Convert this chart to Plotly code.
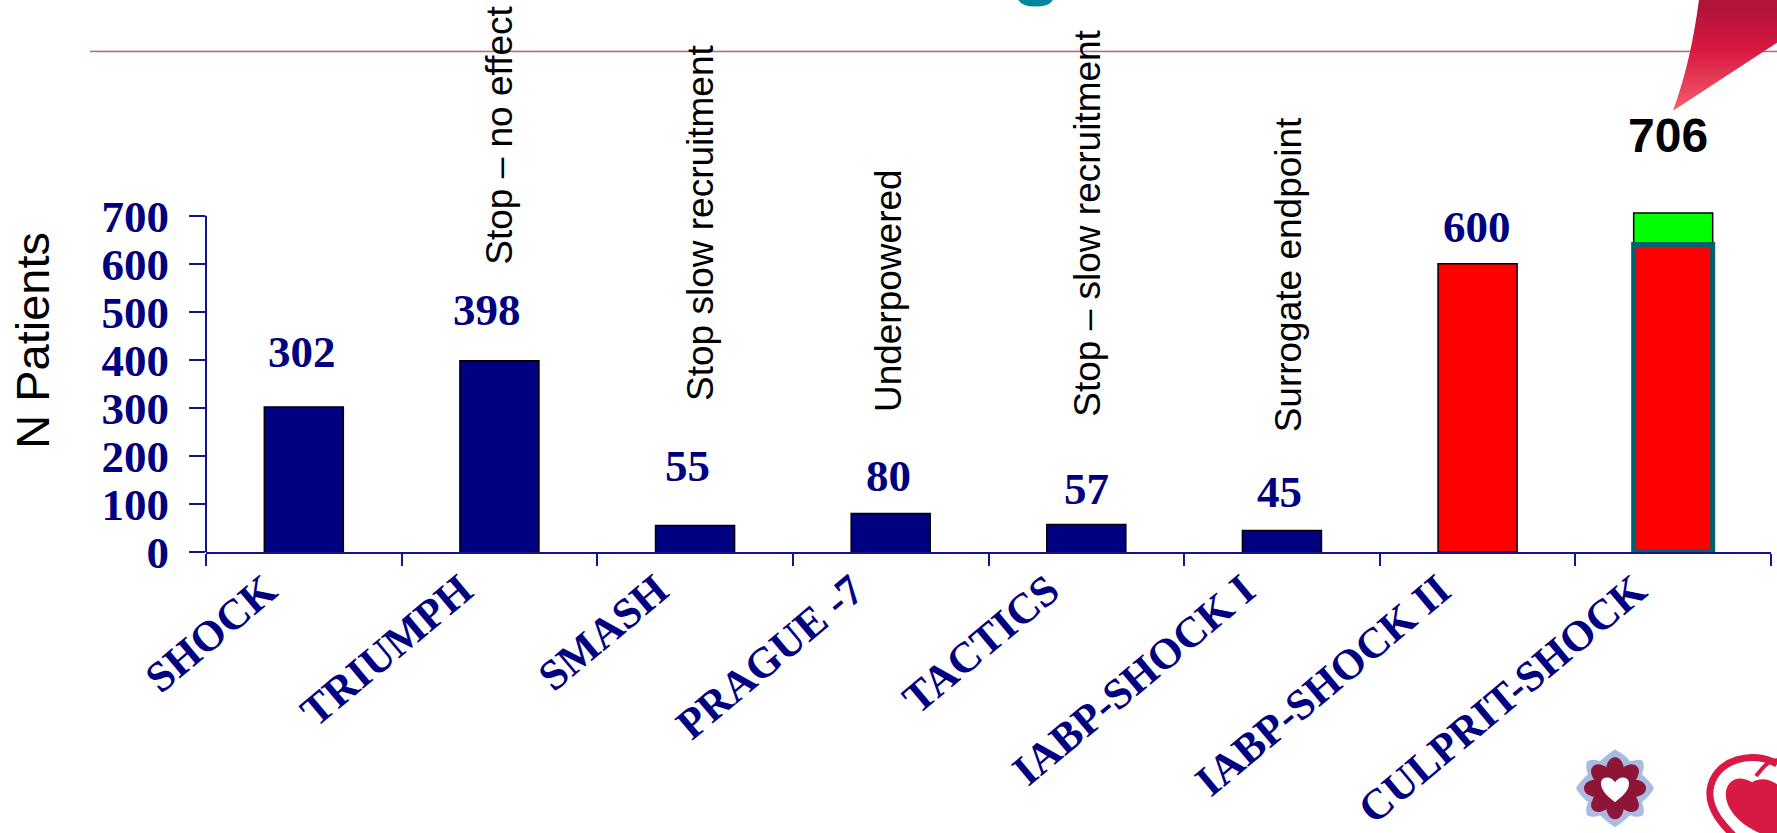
import base64
import plotly.graph_objects as go

# Trial enrolment figures
trials = ["SHOCK", "TRIUMPH", "SMASH", "PRAGUE -7", "TACTICS", "IABP-SHOCK I", "IABP-SHOCK II", "CULPRIT-SHOCK"]
patients = [302, 398, 55, 80, 57, 45, 600, 640]
extra_patients = [None, None, None, None, None, None, None, 66]
value_labels = ["302", "398", "55", "80", "57", "45", "600", "706"]
notes = [None, "Stop – no effect", "Stop slow recruitment", "Underpowered",
         "Stop – slow recruitment", "Surrogate endpoint", None, None]
y_ticks = [0, 100, 200, 300, 400, 500, 600, 700]

W, H = 1777, 833
L, R, B = 206, 1771, 552
PX_PER_PATIENT = 0.48
Y_TOP = 712
T = B - Y_TOP * PX_PER_PATIENT
NAVY = "#000080"
AXIS = "#14148c"
SERIF = "Liberation Serif"
SANS = "Liberation Sans"

bar_fill = [NAVY] * 6 + ["#ff0000"] * 2
bar_edge = ["#000000"] * 7 + ["#00606e"]
bar_edge_w = [1.5] * 7 + [5]


def paper_x(px):
    return (px - L) / (R - L)


def paper_y(py):
    return (B - py) / (B - T)


# Slide furniture: rule, ribbon corner, logos
backdrop = f"""<svg xmlns="http://www.w3.org/2000/svg" width="{W}" height="{H}" viewBox="0 0 {W} {H}">
<defs><linearGradient id="g" x1="0" y1="0" x2="0" y2="1">
<stop offset="0.1" stop-color="#b3143a"/><stop offset="0.45" stop-color="#d81842"/><stop offset="1" stop-color="#f55e6a"/>
</linearGradient></defs>
<rect x="90" y="51" width="1687" height="1.6" fill="#b26c86"/>
<path d="M1699 0 Q1691 62 1673 111 L1777 43 L1777 0 Z" fill="url(#g)"/>
<path d="M1018 0 Q1022 7 1035 7 Q1050 7 1053 0 Z" fill="#00879b"/>
<g transform="translate(1615 788)">
<path d="M0 -39 Q12 -32 15 -27 Q26 -30 28 -27 Q30 -20 27 -14 Q36 -6 39 0 Q36 6 27 14 Q30 22 28 27 Q22 30 15 27 Q8 34 0 39 Q-8 34 -15 27 Q-22 30 -28 27 Q-30 22 -27 14 Q-36 6 -39 0 Q-36 -6 -27 -14 Q-30 -20 -28 -27 Q-22 -30 -15 -27 Q-8 -34 0 -39 Z" fill="#a9bbe0"/>
<g fill="#8e1537">
<ellipse cx="0" cy="-18" rx="9" ry="13"/><ellipse cx="0" cy="18" rx="9" ry="13"/>
<ellipse cx="-18" cy="0" rx="13" ry="9"/><ellipse cx="18" cy="0" rx="13" ry="9"/>
<ellipse cx="0" cy="-18" rx="9" ry="13" transform="rotate(45)"/><ellipse cx="0" cy="18" rx="9" ry="13" transform="rotate(45)"/>
<ellipse cx="-18" cy="0" rx="13" ry="9" transform="rotate(45)"/><ellipse cx="18" cy="0" rx="13" ry="9" transform="rotate(45)"/>
</g>
<path d="M0 14 C-6 9 -14 3 -14 -5 C-14 -12 -4 -13 0 -6 C4 -13 14 -12 14 -5 C14 3 6 9 0 14 Z" fill="#ffffff"/>
</g>
<path d="M1777 764 C1755 750 1714 758 1710 790 C1708 810 1724 826 1738 840" fill="none" stroke="#d61a45" stroke-width="7"/>
<path d="M1777 760 C1768 760 1762 768 1756 776" fill="none" stroke="#d61a45" stroke-width="4"/>
<path d="M1752 782 C1735 772 1724 784 1726 797 C1728 812 1742 825 1760 833 L1777 833 L1777 784 C1768 778 1760 778 1752 782 Z" fill="#d61a45"/>
</svg>"""
backdrop_uri = "data:image/svg+xml;base64," + base64.b64encode(backdrop.encode()).decode()

fig = go.Figure()
fig.add_bar(x=trials, y=extra_patients, base=patients, width=0.404,
            marker=dict(color="#00ff00", line=dict(color="#000000", width=1.5)))
fig.add_bar(x=trials, y=patients, width=0.404,
            marker=dict(color=bar_fill, line=dict(color=bar_edge, width=bar_edge_w)))

annotations = []

# Enrolment counts above the bars
lifts = [55, 51, 60, 38, 36, 38, 37]
x_shifts = [-2, -12, -8, -2, 0, -2, -1]
for name, n, text, lift, dx in zip(trials, patients, value_labels, lifts, x_shifts):
    annotations.append(dict(x=name, y=n, xref="x", yref="y", text=f"<b>{text}</b>", showarrow=False,
                            yshift=lift, xshift=dx, yanchor="middle",
                            font=dict(family=SERIF, size=45, color=NAVY)))
annotations.append(dict(x=trials[-1], y=patients[-1] + extra_patients[-1], xref="x", yref="y",
                        text="<b>706</b>", showarrow=False, yshift=77, xshift=-5, yanchor="middle",
                        font=dict(family=SANS, size=48, color="#000000")))

# Vertical trial outcome notes
note_bottoms = [None, 267, 403, 414, 419, 434, None, None]
note_shifts = [0, 0, 6, -2, 1, 6, 0, 0]
for name, note, bottom, dx in zip(trials, notes, note_bottoms, note_shifts):
    if note:
        annotations.append(dict(x=name, y=paper_y(bottom), xref="x", yref="paper", text=note, showarrow=False,
                                textangle=-90, yanchor="bottom", xshift=dx,
                                font=dict(family=SANS, size=37, color="#000000")))

# Axis caption sits above the middle of the value axis
annotations.append(dict(x=paper_x(33), y=paper_y(341), xref="paper", yref="paper", text="N Patients",
                        showarrow=False, textangle=-90, xanchor="center", yanchor="middle",
                        font=dict(family=SANS, size=47, color="#000000")))

fig.update_layout(
    width=W, height=H, barmode="overlay", showlegend=False,
    paper_bgcolor="#ffffff", plot_bgcolor="rgba(0,0,0,0)",
    margin=dict(l=L, r=W - R, t=T, b=H - B, pad=0, autoexpand=False),
    annotations=annotations,
    shapes=[dict(type="line", xref="paper", yref="y", x0=0, x1=0, y0=0, y1=700,
                 line=dict(color=AXIS, width=2), layer="above")],
    images=[dict(source=backdrop_uri, xref="paper", yref="paper", x=paper_x(0), y=paper_y(0),
                 sizex=W / (R - L), sizey=H / (B - T), sizing="stretch",
                 xanchor="left", yanchor="top", layer="below")],
    xaxis=dict(type="category", categoryorder="array", categoryarray=trials, range=[-0.5, 7.5],
               tickson="boundaries", ticks="outside", ticklen=12, tickwidth=2, tickcolor=AXIS,
               showline=True, linecolor=AXIS, linewidth=2, showgrid=False, zeroline=False,
               tickangle=-40, ticklabelshift=-38, ticklabelstandoff=-6, automargin=False,
               tickfont=dict(family=SERIF, size=43, color=NAVY, weight="bold")),
    yaxis=dict(range=[0, Y_TOP], tickvals=y_ticks,
               ticks="outside", ticklen=16, tickwidth=2, tickcolor=AXIS,
               showline=False, showgrid=False, zeroline=False,
               ticklabelstandoff=11, automargin=False,
               tickfont=dict(family=SERIF, size=45, color=NAVY, weight="bold")),
)

fig.write_html("out.html")
